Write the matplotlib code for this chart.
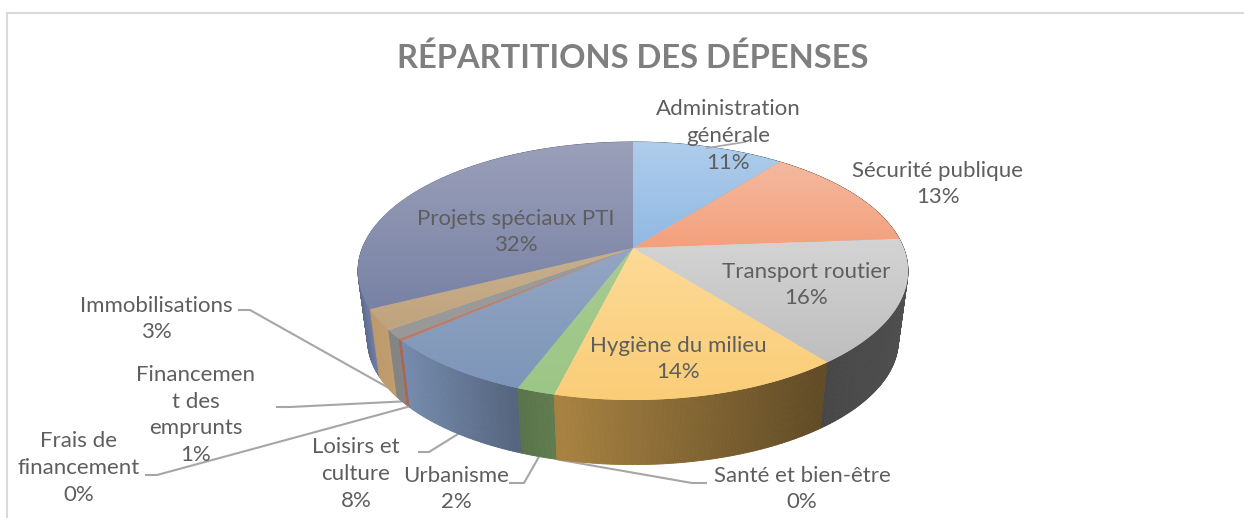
import numpy as np
import matplotlib
matplotlib.use("Agg")
import matplotlib.pyplot as plt
from matplotlib.collections import PolyCollection
from matplotlib.colors import to_rgb
from matplotlib.patches import Polygon, Rectangle

plt.rcParams['font.family'] = ['Lato', 'DejaVu Sans']

# Valeurs (en %)
categories = ["Administration générale", "Sécurité publique", "Transport routier",
              "Hygiène du milieu", "Santé et bien-être", "Urbanisme", "Loisirs et culture",
              "Frais de financement", "Financement des emprunts", "Immobilisations",
              "Projets spéciaux PTI"]
values = [10.6, 13.2, 15.6, 14.4, 0.05, 1.9, 7.8, 0.3, 1.1, 2.6, 32.4]

# Etiquettes avec les coupures de ligne du graphique
label_names = ["Administration\ngénérale", "Sécurité publique", "Transport routier",
               "Hygiène du milieu", "Santé et bien-être", "Urbanisme", "Loisirs et\nculture",
               "Frais de\nfinancement", "Financemen\nt des\nemprunts", "Immobilisations",
               "Projets spéciaux PTI"]
label_pos = [(728, 136), (938, 184), (806, 285), (678, 359), (802, 489), (456, 489),
             (356, 474), (79, 468), (196, 415), (156, 319), (516, 232)]

# Couleurs du dessus: haut et bas de chaque part
top_light = ["#AFCDEB", "#F3B9A0", "#D4D4D4", "#FDDA96", "#FDDA96", "#A8CB92", "#94A5C3",
             "#C08470", "#9C9C9C", "#C8AF8C", "#9BA0B9"]
top_dark = ["#91B9E4", "#F4A07D", "#BEBEBE", "#FACD78", "#FACD78", "#9CC686", "#7D96B9",
            "#B87C68", "#989898", "#BFA47E", "#7882A5"]
side_colors = ["#5B9BD5", "#ED7D31", "#A5A5A5", "#E8B45A", "#E8B45A", "#86AE70", "#8098BE",
               "#B5705A", "#909090", "#D2AC78", "#8090BE"]

# Lignes de rappel: coude et départ, en pixels
leaders = {4: [(707, 483), (692, 483)], 5: [(509, 483), (524, 483)], 6: [(418, 452), (429, 452)],
           7: [(145, 475), (157, 475)], 8: [(276, 407), (290, 407)], 9: [(238, 310), (250, 310)]}

# Perspective du disque
cx, cy = 633, 248
a, b, k = 270.6, 124.9, 0.178
depth, shrink = 70, 0.965


def top_xy(t):
    u, v = np.sin(t), np.cos(t)
    w = 1 + k * v
    return cx + a * u / w, cy - b * v / w


def bottom_xy(t):
    u, v = np.sin(t), np.cos(t)
    w = 1 + k * v
    return cx + shrink * a * u / w, cy + depth - shrink * b * v / w


fig = plt.figure(figsize=(12.44, 5.18), dpi=100)
ax = fig.add_axes([0, 0, 1, 1])
ax.axis('off')

# Cadre du graphique
ax.add_patch(Rectangle((7, 13), 1300, 600, fc='white', ec='#D9D9D9', lw=1.5))

vals = np.array(values) / sum(values)
edges = np.concatenate([[0], np.cumsum(vals)]) * 2 * np.pi

# Parois du disque
polys, cols = [], []
shade_x = [358, 372, 400, 515, 560, 820, 908]
shade_y = [0.72, 0.90, 0.92, 0.66, 0.72, 0.42, 0.48]
for i in range(len(vals)):
    n = max(2, int((edges[i + 1] - edges[i]) / 0.008))
    ts = np.linspace(edges[i], edges[i + 1], n + 1)
    base = np.array(to_rgb(side_colors[i]))
    for t0, t1 in zip(ts[:-1], ts[1:]):
        x0, y0 = top_xy(t0)
        x1, y1 = top_xy(t1)
        x2, y2 = bottom_xy(t1)
        x3, y3 = bottom_xy(t0)
        polys.append([(x0, y0), (x1, y1), (x2, y2), (x3, y3)])
        s = np.interp((x0 + x1) / 2, shade_x, shade_y)
        cols.append(np.clip(base * s, 0, 1))
order = np.argsort([np.mean([p[1] for p in q]) for q in polys])
ax.add_collection(PolyCollection([polys[j] for j in order], facecolors=[cols[j] for j in order],
                                  edgecolors=[cols[j] for j in order], linewidths=0.6, zorder=2))

# Dessus du disque, en dégradé vertical
for i in range(len(vals)):
    ts = np.linspace(edges[i], edges[i + 1], max(3, int((edges[i + 1] - edges[i]) / 0.01)))
    xs, ys = top_xy(ts)
    pts = [(cx, cy)] + list(zip(xs, ys))
    xmin, xmax = min(p[0] for p in pts), max(p[0] for p in pts)
    ymin, ymax = min(p[1] for p in pts), max(p[1] for p in pts)
    c0, c1 = np.array(to_rgb(top_light[i])), np.array(to_rgb(top_dark[i]))
    grad = np.linspace(0, 1, 64)[:, None, None] * (c1 - c0) + c0
    poly = Polygon(pts, closed=True, fc=(c0 + c1) / 2, ec='none', zorder=3)
    ax.add_patch(poly)
    im = ax.imshow(grad, extent=(xmin, xmax, ymax, ymin), origin='upper', aspect='auto', zorder=3.1)
    im.set_clip_path(poly)

ax.set_xlim(0, 1244)
ax.set_ylim(518, 0)

# Lignes de rappel
for i, pts in leaders.items():
    mid = (edges[i] + edges[i + 1]) / 2
    ex, ey = bottom_xy(mid)
    ax.plot([pts[0][0], pts[1][0], ex], [pts[0][1], pts[1][1], ey], color='#A6A6A6', lw=1.5,
            zorder=1 if i != 7 else 4, solid_capstyle='butt')
ax.plot([707, 745], [148, 142], color='#A6A6A6', lw=1.2, zorder=4)

# Etiquettes
for i, name in enumerate(label_names):
    pct = "%d%%" % round(vals[i] * 100)
    ax.text(label_pos[i][0], label_pos[i][1], name + "\n" + pct, ha='center', va='center',
            fontsize=16, color='#5E5E5E', linespacing=1.43, zorder=5)

ax.text(633, 58, "RÉPARTITIONS DES DÉPENSES", ha='center', va='center', fontsize=23.5,
        fontweight='bold', color='#7F7F7F', zorder=5)

fig.savefig("out.png", dpi=100)
